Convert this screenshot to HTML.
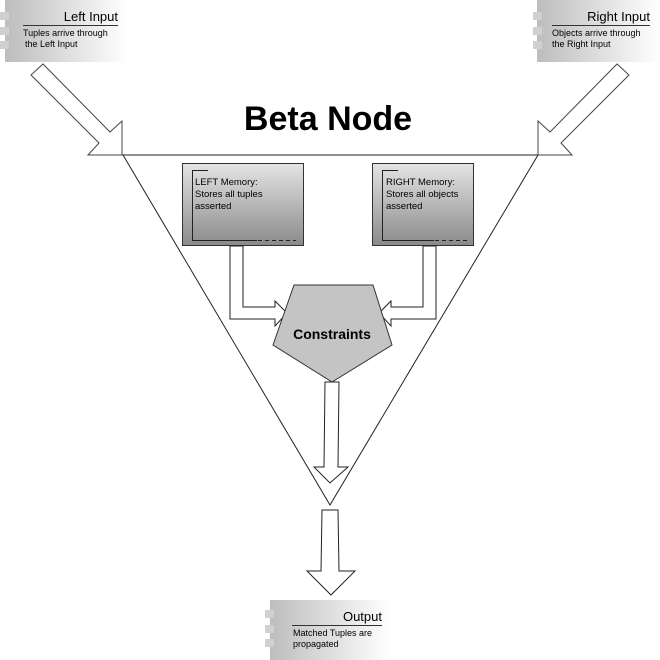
<!DOCTYPE html>
<html><head><style>body{margin:0;background:#fff}svg{display:block}text{font-family:"Liberation Sans",sans-serif}</style></head><body>
<svg width="660" height="660" viewBox="0 0 660 660" xmlns="http://www.w3.org/2000/svg">
<defs>
<linearGradient id="h" x1="0" x2="1" y1="0" y2="0"><stop offset="0" stop-color="#bdbdbd"/><stop offset="1" stop-color="#fff"/></linearGradient>
<linearGradient id="v" x1="0" x2="0" y1="0" y2="1"><stop offset="0" stop-color="#e4e4e4"/><stop offset="1" stop-color="#8a8a8a"/></linearGradient>
<g id="chk"><rect x="0" y="12" width="9" height="8" fill="#d0d0d0"/><rect x="0" y="27" width="9" height="8" fill="#d0d0d0"/><rect x="0" y="41" width="9" height="8" fill="#d0d0d0"/></g>
</defs>
<!-- Left input -->
<rect x="5" y="0" width="122" height="62" fill="url(#h)"/>
<use href="#chk" x="0"/>
<text x="118" y="21" font-size="13" text-anchor="end">Left Input</text>
<line x1="23" y1="25.5" x2="118" y2="25.5" stroke="#333"/>
<text x="23" y="36" font-size="9">Tuples arrive through</text>
<text x="25" y="47" font-size="9">the Left Input</text>
<!-- Right input -->
<rect x="537" y="0" width="123" height="62" fill="url(#h)"/>
<use href="#chk" x="533"/>
<text x="650" y="21" font-size="13" text-anchor="end">Right Input</text>
<line x1="552" y1="25.5" x2="650" y2="25.5" stroke="#333"/>
<text x="552" y="36" font-size="9">Objects arrive through</text>
<text x="552" y="47" font-size="9">the Right Input</text>
<!-- Output -->
<rect x="270" y="600" width="120" height="60" fill="url(#h)"/>
<use href="#chk" x="265" y="598"/>
<text x="382" y="621" font-size="13" text-anchor="end">Output</text>
<line x1="292" y1="625.5" x2="382" y2="625.5" stroke="#333"/>
<text x="293" y="636" font-size="9">Matched Tuples are</text>
<text x="293" y="647" font-size="9">propagated</text>
<!-- triangle -->
<polygon points="123,155 538,155 330,505" fill="none" stroke="#222" stroke-width="1"/>
<text x="328" y="130" font-size="34" font-weight="bold" text-anchor="middle">Beta Node</text>
<!-- input arrows -->
<polygon points="43,64 110,132 122,121 122,155 88,155 99,143 31,75" fill="#fff" stroke="#444"/>
<polygon points="617,64 550,132 538,121 538,155 572,155 561,143 629,75" fill="#fff" stroke="#444"/>
<!-- memory boxes -->
<rect x="182.5" y="163.5" width="121" height="82" fill="url(#v)" stroke="#333"/>
<path d="M192 170.5h16M192.5 171v69" stroke="#222" fill="none"/>
<path d="M192 240.5h65" stroke="#222"/>
<path d="M258 240.5h38" stroke="#222" stroke-dasharray="4,3"/>
<text x="195" y="185" font-size="9.5">LEFT Memory:</text>
<text x="195" y="197" font-size="9.5">Stores all tuples</text>
<text x="195" y="209" font-size="9.5">asserted</text>
<rect x="372.5" y="163.5" width="101" height="82" fill="url(#v)" stroke="#333"/>
<path d="M382 170.5h16M382.5 171v69" stroke="#222" fill="none"/>
<path d="M382 240.5h52" stroke="#222"/>
<path d="M435 240.5h32" stroke="#222" stroke-dasharray="4,3"/>
<text x="386" y="185" font-size="9.5">RIGHT Memory:</text>
<text x="386" y="197" font-size="9.5">Stores all objects</text>
<text x="386" y="209" font-size="9.5">asserted</text>
<!-- elbow arrows -->
<polygon points="230,246 243,246 243,307 275,307 275,301 287,313 275,326 275,319 230,319" fill="#fff" stroke="#222"/>
<polygon points="436,246 423,246 423,307 391,307 391,301 379,313 391,326 391,319 436,319" fill="#fff" stroke="#222"/>
<!-- pentagon -->
<polygon points="294,285 373,285 392,345 332,382 273,345" fill="#c4c4c4" stroke="#333"/>
<text x="332" y="339" font-size="14" font-weight="bold" text-anchor="middle">Constraints</text>
<!-- down arrows -->
<polygon points="325,382 339,382 338,467 348,467 330,483 314,467 324,467" fill="#fff" stroke="#222"/>
<polygon points="322,510 338,510 339,571 355,571 331,595 307,571 321,571" fill="#fff" stroke="#222"/>
</svg>
</body></html>
